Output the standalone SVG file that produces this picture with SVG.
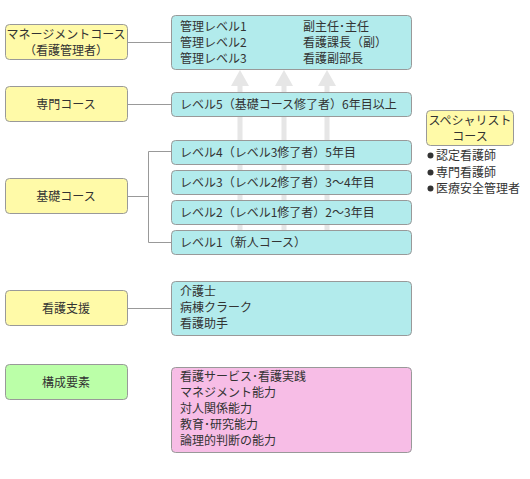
<svg xmlns="http://www.w3.org/2000/svg" width="530" height="479" viewBox="0 0 530 479">
<style>
text{font-family:"Noto Sans CJK JP","Noto Sans",sans-serif;font-size:12px;fill:#333;}
.c{text-anchor:middle;}
.box{stroke:#999;stroke-width:1;}
.y{fill:#fffaa8;}
.b{fill:#b2ebec;}
.g{fill:#bbffa8;}
.p{fill:#f7bde6;}
.ln{stroke:#999;stroke-width:1;fill:none;}
.sh{stroke:#e6e6e6;stroke-width:5;}
.ah{fill:#e6e6e6;}
</style>
<g id="arrows">
<line class="sh" x1="240" y1="84" x2="240" y2="230"/>
<line class="sh" x1="284" y1="84" x2="284" y2="230"/>
<line class="sh" x1="327" y1="84" x2="327" y2="230"/>
<polygon class="ah" points="240,70 231,86 249,86"/>
<polygon class="ah" points="284,70 275,86 293,86"/>
<polygon class="ah" points="327,70 318,86 336,86"/>
</g>
<g id="connectors">
<line class="ln" x1="127" y1="42.5" x2="171" y2="42.5"/>
<line class="ln" x1="127" y1="104.5" x2="171" y2="104.5"/>
<line class="ln" x1="127" y1="196.5" x2="148.5" y2="196.5"/>
<polyline class="ln" points="171,151.5 148.5,151.5 148.5,242.5 171,242.5"/>
<line class="ln" x1="127" y1="308.5" x2="171" y2="308.5"/>
</g>
<g id="mgmt-course">
<rect class="box y" x="5.5" y="24.5" width="122" height="35" rx="4"/>
<text class="c" x="66" y="39">マネージメントコース</text>
<text class="c" x="66" y="55">（看護管理者）</text>
</g>
<g id="senmon-course">
<rect class="box y" x="5.5" y="86.5" width="122" height="35" rx="4"/>
<text class="c" x="66" y="108.5">専門コース</text>
</g>
<g id="kiso-course">
<rect class="box y" x="5.5" y="178.5" width="122" height="35" rx="4"/>
<text class="c" x="66" y="200.5">基礎コース</text>
</g>
<g id="kango-shien">
<rect class="box y" x="5.5" y="290.5" width="122" height="35" rx="4"/>
<text class="c" x="66" y="312.5">看護支援</text>
</g>
<g id="kousei-youso">
<rect class="box g" x="5.5" y="364.5" width="122" height="35" rx="4"/>
<text class="c" x="66" y="386.5">構成要素</text>
</g>
<g id="mgmt-levels">
<rect class="box b" x="171.5" y="15.5" width="240" height="54" rx="4"/>
<text x="180" y="31">管理レベル1</text>
<text x="180" y="47">管理レベル2</text>
<text x="180" y="63">管理レベル3</text>
<text x="303" y="31">副主任･主任</text>
<text x="303" y="47">看護課長（副）</text>
<text x="303" y="63">看護副部長</text>
</g>
<g id="level5">
<rect class="box b" x="171.5" y="92.5" width="240" height="24" rx="4"/>
<text x="180" y="109">レベル5（基礎コース修了者）6年目以上</text>
</g>
<g id="level4">
<rect class="box b" x="171.5" y="140.5" width="240" height="24" rx="4"/>
<text x="180" y="157">レベル4（レベル3修了者）5年目</text>
</g>
<g id="level3">
<rect class="box b" x="171.5" y="170.5" width="240" height="24" rx="4"/>
<text x="180" y="187">レベル3（レベル2修了者）3～4年目</text>
</g>
<g id="level2">
<rect class="box b" x="171.5" y="200.5" width="240" height="24" rx="4"/>
<text x="180" y="217">レベル2（レベル1修了者）2～3年目</text>
</g>
<g id="level1">
<rect class="box b" x="171.5" y="230.5" width="240" height="24" rx="4"/>
<text x="180" y="247">レベル1（新人コース）</text>
</g>
<g id="support-staff">
<rect class="box b" x="171.5" y="281.5" width="240" height="54" rx="4"/>
<text x="180" y="296">介護士</text>
<text x="180" y="312">病棟クラーク</text>
<text x="180" y="328">看護助手</text>
</g>
<g id="elements">
<rect class="box p" x="171.5" y="367.5" width="240" height="85" rx="4"/>
<text x="180" y="381">看護サービス･看護実践</text>
<text x="180" y="397">マネジメント能力</text>
<text x="180" y="413">対人関係能力</text>
<text x="180" y="429">教育･研究能力</text>
<text x="180" y="445">論理的判断の能力</text>
</g>
<g id="specialist">
<rect class="box y" x="426.5" y="110.5" width="87" height="35" rx="4"/>
<text class="c" x="470" y="125">スペシャリスト</text>
<text class="c" x="470" y="141">コース</text>
<circle cx="430.5" cy="155.5" r="3" fill="#333"/>
<text x="436" y="160">認定看護師</text>
<circle cx="430.5" cy="172.5" r="3" fill="#333"/>
<text x="436" y="177">専門看護師</text>
<circle cx="430.5" cy="188.5" r="3" fill="#333"/>
<text x="436" y="193">医療安全管理者</text>
</g>
</svg>
